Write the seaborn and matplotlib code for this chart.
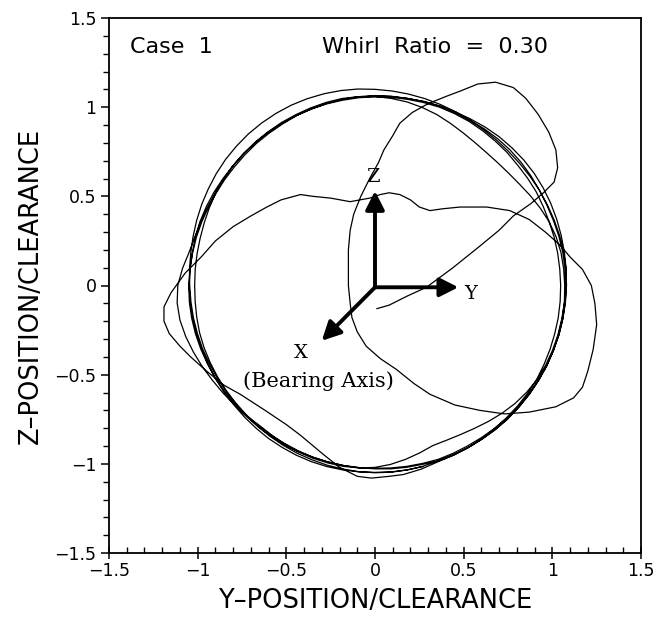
import numpy as np
import pandas as pd
import matplotlib
matplotlib.use("Agg")
import matplotlib.pyplot as plt
from matplotlib.ticker import AutoMinorLocator
import seaborn as sns

# Start-up transient of the journal centre (Y, Z positions / clearance)
start_y = [0.01, 0.08, 0.18, 0.29, 0.44, 0.59, 0.70, 0.78, 0.88, 0.95,
           1.01, 1.03, 1.02, 0.98, 0.92, 0.85, 0.78, 0.68, 0.58, 0.48,
           0.40, 0.30, 0.21, 0.14, 0.10, 0.05, 0.02, -0.03, -0.08, -0.12,
           -0.14, -0.15, -0.15, -0.15, -0.14, -0.13, -0.10, -0.05, 0.03, 0.12,
           0.22, 0.31, 0.45, 0.59, 0.73, 0.87, 1.02, 1.12, 1.17, 1.20,
           1.23, 1.25, 1.24, 1.22, 1.17, 1.10, 1.04, 0.96, 0.87, 0.76,
           0.63, 0.48, 0.38, 0.31, 0.25, 0.20, 0.14, 0.08, 0.03, -0.03,
           -0.14, -0.25, -0.35, -0.42, -0.53, -0.61, -0.70, -0.80, -0.90, -0.98,
           -1.07, -1.15, -1.19, -1.19, -1.16, -1.10, -1.04, -0.95, -0.85, -0.76,
           -0.62, -0.50, -0.42, -0.30, -0.20, -0.10, -0.02, 0.08, 0.16, 0.26]
start_z = [-0.13, -0.11, -0.06, -0.01, 0.10, 0.22, 0.31, 0.39, 0.46, 0.52,
           0.58, 0.66, 0.76, 0.86, 0.96, 1.05, 1.11, 1.14, 1.13, 1.09,
           1.06, 1.02, 0.97, 0.91, 0.84, 0.76, 0.69, 0.60, 0.50, 0.40,
           0.31, 0.20, 0.10, 0.00, -0.10, -0.18, -0.26, -0.34, -0.41, -0.47,
           -0.55, -0.61, -0.67, -0.70, -0.72, -0.71, -0.68, -0.63, -0.57, -0.48,
           -0.36, -0.22, -0.10, 0.00, 0.09, 0.16, 0.23, 0.30, 0.37, 0.42,
           0.44, 0.44, 0.43, 0.42, 0.44, 0.48, 0.51, 0.52, 0.51, 0.49,
           0.47, 0.49, 0.50, 0.51, 0.48, 0.44, 0.39, 0.33, 0.25, 0.16,
           0.07, -0.04, -0.12, -0.20, -0.27, -0.34, -0.40, -0.48, -0.56, -0.61,
           -0.70, -0.78, -0.84, -0.94, -1.02, -1.07, -1.08, -1.07, -1.06, -1.03]

# Settled whirl orbit: polar angle (deg, every 5 deg from -70) and
# radius / clearance, one list per revolution
orbit_angles = list(range(-70, 290, 5))
loop1_r = [1.050, 1.050, 1.050, 1.052, 1.055, 1.058, 1.060, 1.063, 1.065, 1.068,
           1.070, 1.073, 1.075, 1.078, 1.080, 1.081, 1.080, 1.078, 1.075, 1.072,
           1.070, 1.067, 1.065, 1.064, 1.065, 1.067, 1.070, 1.075, 1.080, 1.085,
           1.090, 1.095, 1.100, 1.106, 1.110, 1.113, 1.115, 1.116, 1.115, 1.113,
           1.110, 1.105, 1.100, 1.093, 1.085, 1.078, 1.070, 1.062, 1.055, 1.050,
           1.045, 1.042, 1.040, 1.037, 1.035, 1.032, 1.030, 1.029, 1.029, 1.029,
           1.030, 1.032, 1.035, 1.038, 1.040, 1.043, 1.045, 1.048, 1.050, 1.051,
           1.050, 1.049]
loop2_r = [1.045, 1.047, 1.050, 1.052, 1.055, 1.058, 1.060, 1.062, 1.065, 1.068,
           1.070, 1.071, 1.072, 1.072, 1.070, 1.068, 1.065, 1.057, 1.045, 1.028,
           1.010, 0.993, 0.982, 0.976, 0.975, 0.980, 0.990, 1.004, 1.020, 1.033,
           1.045, 1.053, 1.060, 1.063, 1.065, 1.063, 1.060, 1.057, 1.055, 1.052,
           1.050, 1.047, 1.045, 1.042, 1.040, 1.041, 1.045, 1.052, 1.065, 1.090,
           1.112, 1.120, 1.117, 1.105, 1.090, 1.075, 1.060, 1.048, 1.038, 1.030,
           1.020, 1.021, 1.025, 1.028, 1.030, 1.030, 1.030, 1.027, 1.020, 1.007,
           0.990, 0.972]
loop3_r = [0.955, 0.957, 0.965, 0.978, 0.995, 1.013, 1.030, 1.044, 1.055, 1.061,
           1.065, 1.068, 1.070, 1.073, 1.075, 1.076, 1.075, 1.073, 1.070, 1.069,
           1.070, 1.073, 1.075, 1.076, 1.075, 1.073, 1.070, 1.070, 1.070, 1.068,
           1.065, 1.065, 1.065, 1.063, 1.060, 1.058, 1.055, 1.050, 1.045, 1.042,
           1.040, 1.037, 1.035, 1.035, 1.035, 1.037, 1.040, 1.043, 1.045, 1.048,
           1.050, 1.051, 1.050, 1.048, 1.045, 1.042, 1.040, 1.037, 1.035, 1.032,
           1.030, 1.030, 1.030, 1.027, 1.025, 1.025, 1.025, 1.025, 1.025, 1.027,
           1.030, 1.033]
loop4_r = [1.038, 1.039, 1.040, 1.043, 1.047, 1.052, 1.055, 1.059, 1.063, 1.067,
           1.070, 1.074, 1.076, 1.077, 1.078, 1.082, 1.084, 1.087, 1.090, 1.093,
           1.095, 1.096, 1.095, 1.092, 1.089, 1.084, 1.078, 1.074, 1.071, 1.068,
           1.065, 1.064, 1.062, 1.061, 1.060, 1.057, 1.052, 1.051, 1.050, 1.049,
           1.048, 1.046, 1.045, 1.042, 1.037, 1.031, 1.025, 1.021, 1.019, 1.018,
           1.017, 1.018, 1.021, 1.024, 1.025, 1.025, 1.025, 1.025, 1.025, 1.026,
           1.026, 1.024, 1.022, 1.023, 1.024, 1.024, 1.025, 1.026, 1.028, 1.032,
           1.035, 1.038]
loop5_r = [1.047, 1.049, 1.050, 1.049, 1.048, 1.049, 1.050, 1.052, 1.053, 1.051,
           1.050, 1.049, 1.049, 1.048, 1.047, 1.046, 1.046, 1.046, 1.045, 1.047,
           1.050, 1.050, 1.050, 1.054, 1.056, 1.059, 1.062, 1.063, 1.064, 1.062,
           1.060, 1.059, 1.058, 1.057, 1.055, 1.054, 1.053, 1.052, 1.050, 1.049,
           1.047, 1.047, 1.045, 1.046, 1.048, 1.049, 1.050, 1.049, 1.046, 1.047,
           1.048, 1.047, 1.044, 1.042, 1.040, 1.040, 1.040, 1.040, 1.040, 1.042,
           1.044, 1.047, 1.048, 1.050, 1.051, 1.051, 1.050, 1.049, 1.048, 1.049,
           1.050, 1.051]

tick_values = [-1.5, -1, -0.5, 0, 0.5, 1, 1.5]
tick_labels = ["\u22121.5", "\u22121", "\u22120.5", "0", "0.5", "1", "1.5"]
case_label = "Case  1"
ratio_label = "Whirl  Ratio  =  0.30"
x_label = "Y\u2013POSITION/CLEARANCE"
y_label = "Z\u2013POSITION/CLEARANCE"

sns.set_style("ticks")
plt.rcParams["font.family"] = ["DejaVu Sans"]
for key in ["text.color", "axes.labelcolor", "xtick.color", "ytick.color",
            "axes.edgecolor"]:
    plt.rcParams[key] = "black"

fig = plt.figure(figsize=(6.57, 6.18), dpi=100)
ax = fig.add_axes([109 / 657, 1 - 553 / 618, 532 / 657, 535 / 618])

loops = [loop1_r, loop2_r, loop3_r, loop4_r, loop5_r]
theta = np.deg2rad(np.tile(orbit_angles, len(loops)))
radius = np.concatenate(loops)
path = pd.DataFrame({
    "y": np.concatenate([start_y, radius * np.cos(theta)]),
    "z": np.concatenate([start_z, radius * np.sin(theta)]),
})
sns.lineplot(data=path, x="y", y="z", sort=False, estimator=None,
             color="black", linewidth=0.9, ax=ax)

ax.set_xlim(-1.5, 1.5)
ax.set_ylim(-1.5, 1.5)
ax.set_xticks(tick_values, tick_labels)
ax.set_yticks(tick_values, tick_labels)
ax.xaxis.set_minor_locator(AutoMinorLocator(5))
ax.yaxis.set_minor_locator(AutoMinorLocator(5))
ax.tick_params(axis="x", which="major", direction="inout", length=9, width=1.1,
               labelsize=12.5, pad=2, colors="black")
ax.tick_params(axis="x", which="minor", direction="in", length=4, width=1.0)
ax.tick_params(axis="y", which="major", direction="out", length=6, width=1.1,
               labelsize=12.5, pad=3, colors="black")
ax.tick_params(axis="y", which="minor", direction="out", length=4, width=1.0)
for side in ["left", "right", "top", "bottom"]:
    ax.spines[side].set_visible(True)
    ax.spines[side].set_linewidth(1.3)
    ax.spines[side].set_color("black")

ax.set_xlabel(x_label, fontsize=18.5, labelpad=6)
ax.set_ylabel(y_label, fontsize=18.5, labelpad=8)

ax.text(0.04, 0.946, case_label, transform=ax.transAxes, fontsize=16,
        ha="left", va="center")
ax.text(0.40, 0.946, ratio_label, transform=ax.transAxes, fontsize=16,
        ha="left", va="center")

# Coordinate triad at the bearing centre
arrow_style = dict(arrowstyle="-|>,head_length=0.75,head_width=0.38",
                   lw=2.8, color="black", shrinkA=0, shrinkB=0,
                   mutation_scale=15)
origin = (0.0, -0.01)
ax.annotate("", xy=(0.0, 0.53), xytext=origin, arrowprops=arrow_style)
ax.annotate("", xy=(0.47, -0.01), xytext=origin, arrowprops=arrow_style)
ax.annotate("", xy=(-0.30, -0.31), xytext=origin, arrowprops=arrow_style)

serif = "DejaVu Serif"
ax.text(-0.01, 0.61, "Z", family=serif, fontsize=14, ha="center", va="center")
ax.text(0.54, -0.05, "Y", family=serif, fontsize=14, ha="center", va="center")
ax.text(-0.42, -0.38, "X", family=serif, fontsize=14, ha="center", va="center")
ax.text(-0.32, -0.535, "(Bearing Axis)", family=serif, fontsize=15,
        ha="center", va="center")

fig.savefig("out.png", dpi=100)
